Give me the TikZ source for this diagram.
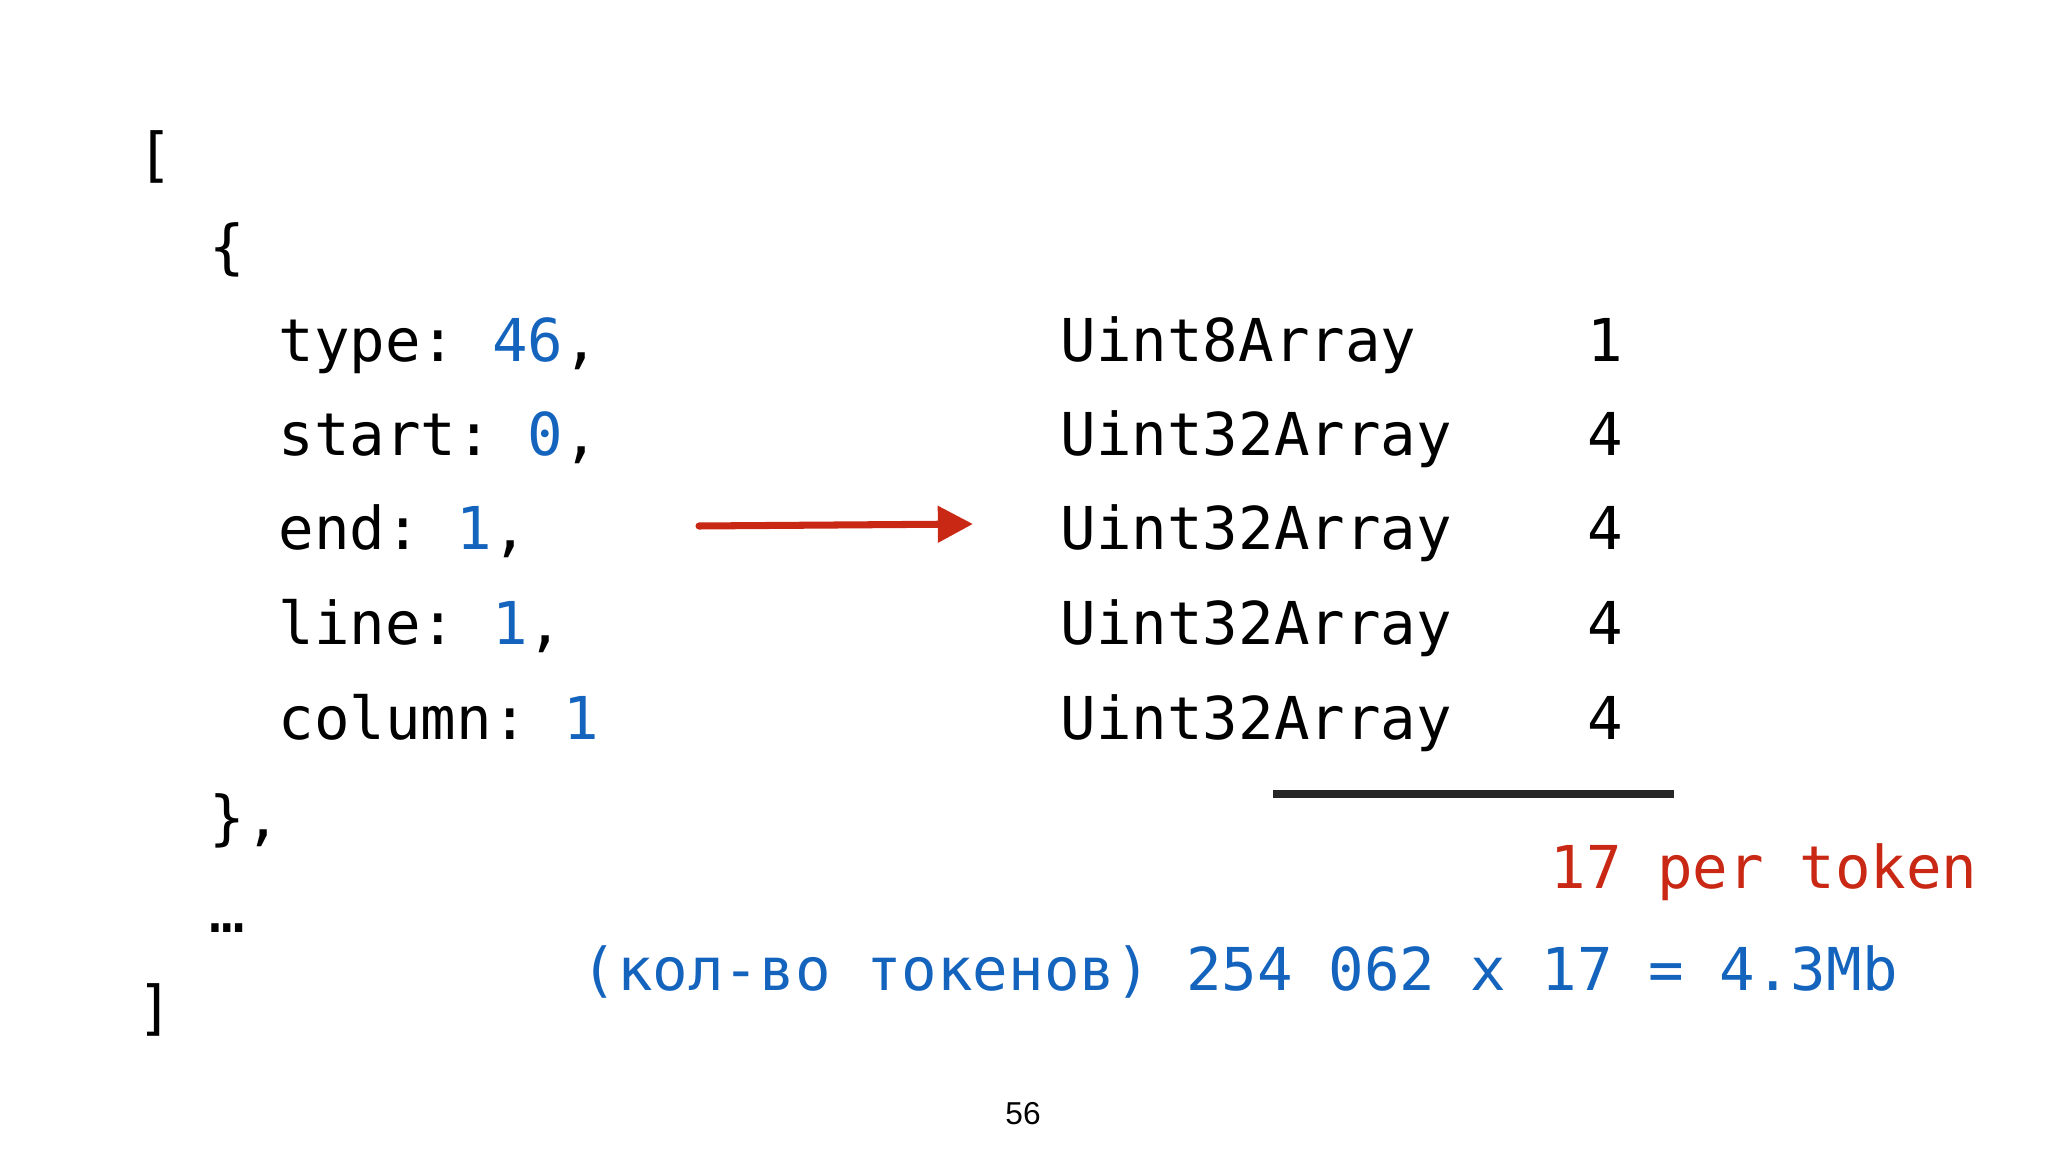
\documentclass[tikz,border=0pt]{standalone}
\usepackage{fontspec}
\setmonofont{DejaVu Sans Mono}
\newfontfamily\numfont{Liberation Sans}
\usetikzlibrary{arrows.meta}
\definecolor{codeblue}{RGB}{20,100,190}
\definecolor{codered}{RGB}{200,40,20}
\tikzset{code/.style={anchor=base west,inner sep=0pt,font=\ttfamily\fontsize{16.8pt}{20pt}\selectfont}}
\begin{document}
\begin{tikzpicture}[x=0.01cm,y=-0.01cm]
\useasboundingbox (0,0) rectangle (2048,1152);
\node[code] (lb) at (137,176) {[};
\node[code] (ob) at (209,268) {\{};
\node[code] (t) at (278,362) {type: \textcolor{codeblue}{46},};
\node[code] (s) at (278,456) {start: \textcolor{codeblue}{0},};
\node[code] (e) at (278,550) {end: \textcolor{codeblue}{1},};
\node[code] (l) at (278,644) {line: \textcolor{codeblue}{1},};
\node[code] (c) at (278,739) {column: \textcolor{codeblue}{1}};
\node[code] (cb) at (209,838) {\},};
\node[code] (dots) at (209,932) {…};
\node[code] (rb) at (137,1028) {]};
\node[code] (u1) at (1060,362) {Uint8Array};
\node[code] (u2) at (1060,456) {Uint32Array};
\node[code] (u3) at (1060,550) {Uint32Array};
\node[code] (u4) at (1060,644) {Uint32Array};
\node[code] (u5) at (1060,739) {Uint32Array};
\node[code] (n1) at (1587,362) {1};
\node[code] (n2) at (1587,456) {4};
\node[code] (n3) at (1587,550) {4};
\node[code] (n4) at (1587,644) {4};
\node[code] (n5) at (1587,739) {4};
\coordinate (a1) at (699,526);
\coordinate (a2) at (973,524);
\draw[codered,line width=2pt,line cap=round,-{Triangle[length=10pt,width=10pt]}] (a1) -- (a2);
\coordinate (ul1) at (1273,794);
\coordinate (ul2) at (1674,794);
\draw[black!85,line width=2pt] (ul1) -- (ul2);
\node[code,text=codered] (per) at (1550,888) {17 per token};
\node[code,text=codeblue] (tot) at (581,990) {(кол-во токенов) 254 062 x 17 = 4.3Mb};
\node[anchor=base,inner sep=0pt,font=\numfont\fontsize{9pt}{10pt}\selectfont] (pg) at (1023,1124) {56};
\end{tikzpicture}
\end{document}
